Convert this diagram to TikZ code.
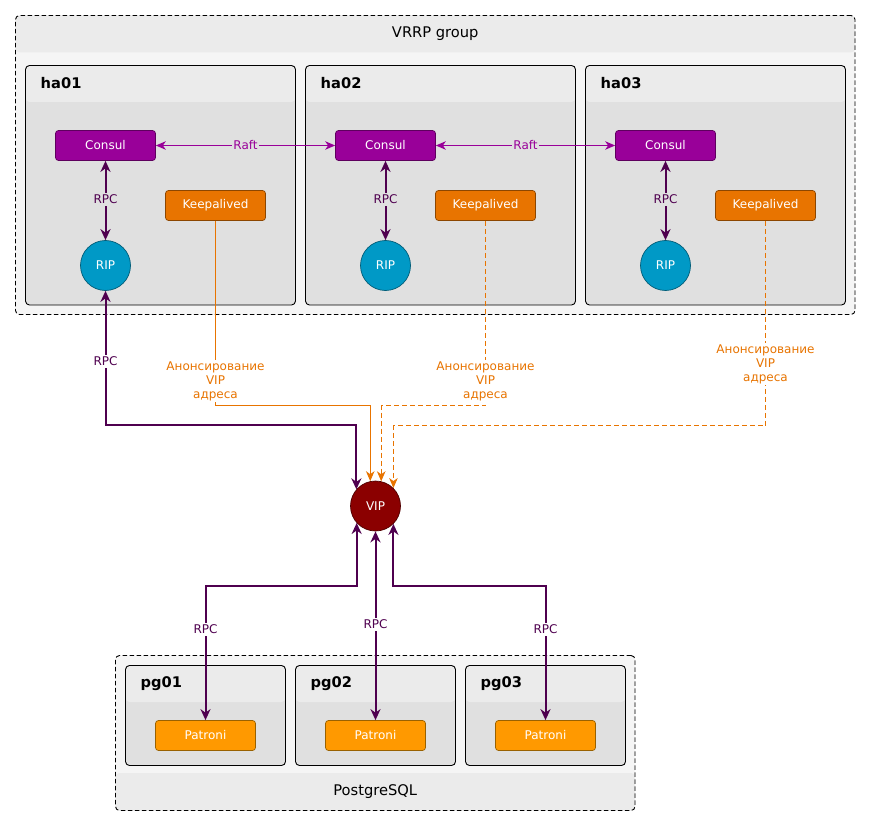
\documentclass[tikz,border=0pt]{standalone}
\usepackage{fontspec}
\setmainfont{DejaVu Sans}
\usetikzlibrary{arrows.meta,calc}
\definecolor{grpfill}{HTML}{F5F5F5}
\definecolor{headfill}{HTML}{EBEBEB}
\definecolor{bodyfill}{HTML}{E0E0E0}
\definecolor{consulc}{HTML}{990099}
\definecolor{consulb}{HTML}{5E005E}
\definecolor{kac}{HTML}{E87400}
\definecolor{kab}{HTML}{8C4600}
\definecolor{patc}{HTML}{FF9900}
\definecolor{patb}{HTML}{996100}
\definecolor{ripc}{HTML}{0099C6}
\definecolor{ripb}{HTML}{005C77}
\definecolor{vipc}{HTML}{8B0000}
\definecolor{vipb}{HTML}{4F0000}
\definecolor{rpcc}{HTML}{4F004F}
\tikzset{
  headband/.style={path picture={\fill[headfill] (path picture bounding box.north west) rectangle ([yshift=-#1]path picture bounding box.north east);}},
  footband/.style={path picture={\fill[headfill] (path picture bounding box.south west) rectangle ([yshift=#1]path picture bounding box.south east);}},
  grp/.style={draw=black, line width=0.9pt, dash pattern=on 4.5pt off 2.5pt, rounded corners=4pt, inner sep=0pt},
  hostbox/.style={draw=black, line width=0.9pt, rounded corners=4pt, inner sep=0pt},
  app/.style={rounded corners=3pt, minimum width=100pt, minimum height=30pt, text=white, font=\fontsize{12}{14}\selectfont, line width=0.7pt, inner sep=0pt},
  consulbox/.style={app, fill=consulc, draw=consulb},
  kabox/.style={app, fill=kac, draw=kab},
  patbox/.style={app, fill=patc, draw=patb},
  ipcircle/.style={circle, minimum size=50pt, inner sep=0pt, text=white, font=\fontsize{12}{14}\selectfont, line width=0.7pt},
  titletxt/.style={font=\fontsize{14.67}{17}\selectfont, inner sep=0pt},
  hosttxt/.style={font=\fontsize{14.67}{17}\selectfont\bfseries, inner sep=0pt, anchor=west},
  lbl/.style={font=\fontsize{12}{14}\selectfont, inner sep=1.5pt, align=center},
  stl/.tip={Stealth[length=11pt,width=10pt,inset=3.5pt]},
  stls/.tip={Stealth[length=10pt,width=8.5pt,inset=3pt]},
  rpc/.style={draw=rpcc, line width=2pt, arrows={stl-stl}},
  raft/.style={draw=consulc, line width=1pt, arrows={stls-stls}},
  ka/.style={draw=kac, line width=1pt, arrows={-stls}},
  kadash/.style={ka, dash pattern=on 5pt off 3pt},
}
\begin{document}
\begin{tikzpicture}[x=1pt,y=-1pt]
\useasboundingbox[fill=white] (0,0) rectangle (870,826);

% groups
\node[grp, preaction={fill=grpfill, headband=37pt}, minimum width=839.5pt, minimum height=299pt] (vrrp) at (435.25,165) {};
\node[titletxt] (vrrpt) at (435.25,34) {VRRP group};
\node[grp, preaction={fill=grpfill, footband=37.5pt}, minimum width=519.5pt, minimum height=155pt] (pgg) at (375.25,733) {};
\node[titletxt] (pggt) at (375.25,792) {PostgreSQL};

% hosts
\node[hostbox, preaction={fill=bodyfill, headband=36.5pt}, minimum width=270pt, minimum height=239.5pt] (ha01) at (160.5,185.25) {};
\node[hostbox, preaction={fill=bodyfill, headband=36.5pt}, minimum width=270pt, minimum height=239.5pt] (ha02) at (440.5,185.25) {};
\node[hostbox, preaction={fill=bodyfill, headband=36.5pt}, minimum width=260pt, minimum height=239.5pt] (ha03) at (715.5,185.25) {};
\node[hosttxt] (ha01t) at (40.5,83.5) {ha01};
\node[hosttxt] (ha02t) at (320.5,83.5) {ha02};
\node[hosttxt] (ha03t) at (600.5,83.5) {ha03};

\node[hostbox, preaction={fill=bodyfill, headband=36.5pt}, minimum width=160pt, minimum height=100pt] (pg01) at (205.5,715.5) {};
\node[hostbox, preaction={fill=bodyfill, headband=36.5pt}, minimum width=160pt, minimum height=100pt] (pg02) at (375.5,715.5) {};
\node[hostbox, preaction={fill=bodyfill, headband=36.5pt}, minimum width=160pt, minimum height=100pt] (pg03) at (545.5,715.5) {};
\node[hosttxt] (pg01t) at (140.5,683.5) {pg01};
\node[hosttxt] (pg02t) at (310.5,683.5) {pg02};
\node[hosttxt] (pg03t) at (480.5,683.5) {pg03};

% services
\node[consulbox] (c1) at (105.5,145.5) {Consul};
\node[consulbox] (c2) at (385.5,145.5) {Consul};
\node[consulbox] (c3) at (665.5,145.5) {Consul};
\node[kabox] (k1) at (215.5,205.5) {Keepalived};
\node[kabox] (k2) at (485.5,205.5) {Keepalived};
\node[kabox] (k3) at (765.5,205.5) {Keepalived};
\node[ipcircle, fill=ripc, draw=ripb] (r1) at (105.5,265.5) {RIP};
\node[ipcircle, fill=ripc, draw=ripb] (r2) at (385.5,265.5) {RIP};
\node[ipcircle, fill=ripc, draw=ripb] (r3) at (665.5,265.5) {RIP};
\node[ipcircle, fill=vipc, draw=vipb] (vip) at (375.5,506) {VIP};
\node[patbox] (p1) at (205.5,735.5) {Patroni};
\node[patbox] (p2) at (375.5,735.5) {Patroni};
\node[patbox] (p3) at (545.5,735.5) {Patroni};

% connectors
\draw[raft] (c1) -- (c2);
\draw[raft] (c2) -- (c3);
\draw[rpc] (c1) -- (r1);
\draw[rpc] (c2) -- (r2);
\draw[rpc] (c3) -- (r3);
\draw[rpc] (r1.south) -- ++(0,134.5) -| (vip.139.5);
\draw[ka] (k1.south) -- ++(0,185) -| (vip.102.7);
\draw[kadash] (k2.south) -- ++(0,185) -| (vip.77.3);
\draw[kadash] (k3.south) -- ++(0,205) -| (vip.45.6);
\coordinate (b1) at (205.5,585.5);
\coordinate (b3) at (545.5,585.5);
\draw[rpc] (vip.222.2) |- (b1) -- (p1.north);
\draw[rpc] (vip.south) -- (p2.north);
\draw[rpc] (vip.-45.6) |- (b3) -- (p3.north);

% labels
\node[lbl, fill=bodyfill, text=consulc] (l1) at (245.5,145) {Raft};
\node[lbl, fill=bodyfill, text=consulc] (l2) at (525.5,145) {Raft};
\node[lbl, fill=bodyfill, text=rpcc] (l3) at (105.5,199.5) {RPC};
\node[lbl, fill=bodyfill, text=rpcc] (l4) at (385.5,199.5) {RPC};
\node[lbl, fill=bodyfill, text=rpcc] (l5) at (665.5,199.5) {RPC};
\node[lbl, fill=white, text=rpcc] (l6) at (105.5,361.5) {RPC};
\node[lbl, fill=white, text=kac] (l7) at (215.5,381) {Анонсирование\\VIP\\адреса};
\node[lbl, fill=white, text=kac] (l8) at (485.5,381) {Анонсирование\\VIP\\адреса};
\node[lbl, fill=white, text=kac] (l9) at (765.5,364) {Анонсирование\\VIP\\адреса};
\node[lbl, fill=white, text=rpcc] (l10) at (205.5,629.5) {RPC};
\node[lbl, fill=white, text=rpcc] (l11) at (375.5,624.5) {RPC};
\node[lbl, fill=white, text=rpcc] (l12) at (545.5,629.5) {RPC};
\end{tikzpicture}
\end{document}
